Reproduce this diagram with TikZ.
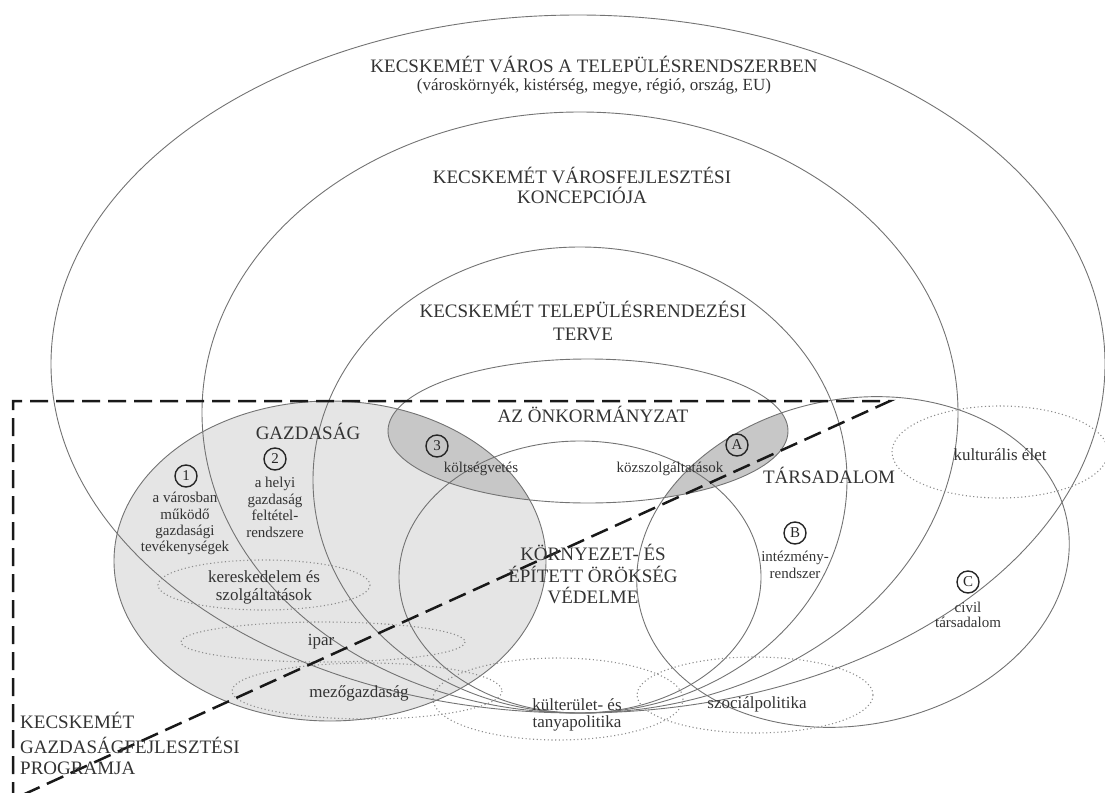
\documentclass[tikz,border=0pt]{standalone}
\usepackage{fontspec}
\setmainfont{Liberation Serif}
\begin{document}
\begin{tikzpicture}[x=1pt,y=-1pt,
  bigline/.style={draw=black!55,line width=0.9pt},
  dotell/.style={draw=black!45,line width=1.1pt,dash pattern=on 1.1pt off 2.6pt},
  dashframe/.style={draw=black!90,line width=2.5pt,dash pattern=on 18pt off 8pt},
  gazfill/.style={fill=black!10},
  lensfill/.style={fill=black!22},
  hd/.style={font=\fontsize{19}{22}\selectfont,text=black!80,inner sep=0pt,anchor=base},
  lb/.style={font=\fontsize{17}{18}\selectfont,text=black!80,inner sep=0pt,anchor=base},
  sm/.style={font=\fontsize{15}{16}\selectfont,text=black!80,inner sep=0pt,anchor=base},
  numc/.style={circle,draw=black!85,line width=1.4pt,minimum size=22pt,inner sep=0pt,font=\fontsize{15}{15}\selectfont,text=black!85}
]
\useasboundingbox (0,0) rectangle (1105,792);
\clip (0,0) rectangle (1105,792);
% ---- fills
\fill[gazfill] (330,561) ellipse [x radius=216, y radius=160];
\begin{scope}
  \clip (330,561) ellipse [x radius=216, y radius=160];
  \fill[lensfill] (588,431) ellipse [x radius=200, y radius=72];
\end{scope}
\begin{scope}
  \clip[rotate around={11:(853,562)}] (853,562) ellipse [x radius=218, y radius=163];
  \fill[lensfill] (588,431) ellipse [x radius=200, y radius=72];
\end{scope}
% ---- outlines
\draw[bigline] (578,364) ellipse [x radius=527, y radius=349];
\draw[bigline] (580,412.5) ellipse [x radius=378, y radius=300.5];
\draw[bigline] (580,480) ellipse [x radius=267, y radius=233];
\draw[bigline] (580,577) ellipse [x radius=181, y radius=136];
\draw[bigline] (588,431) ellipse [x radius=200, y radius=72];
\draw[bigline] (330,561) ellipse [x radius=216, y radius=160];
\draw[bigline, rotate around={11:(853,562)}] (853,562) ellipse [x radius=218, y radius=163];
% ---- dotted ellipses
\draw[dotell] (264,585) ellipse [x radius=106, y radius=25];
\draw[dotell] (323,642) ellipse [x radius=142, y radius=20];
\draw[dotell] (367,691) ellipse [x radius=135, y radius=28];
\draw[dotell] (558,699) ellipse [x radius=125, y radius=41];
\draw[dotell] (755,695) ellipse [x radius=118, y radius=38];
\draw[dotell] (1000,452) ellipse [x radius=108, y radius=46];
% ---- dashed frame
\coordinate (fbl) at (13,800);
\coordinate (ftl) at (13,401);
\coordinate (ftr) at (890,401);
\coordinate (fbd) at (18,797);
\draw[dashframe] (fbl) -- (ftl) -- (ftr) -- (fbd);
% ---- headings
\node[hd] (t1a) at (594,72) {KECSKEMÉT VÁROS A TELEPÜLÉSRENDSZERBEN};
\node[font=\fontsize{17}{18}\selectfont,text=black!80,inner sep=0pt,anchor=base] (t1b) at (594,90) {(városkörnyék, kistérség, megye, régió, ország, EU)};
\node[hd] (t2a) at (582,183) {KECSKEMÉT VÁROSFEJLESZTÉSI};
\node[hd] (t2b) at (582,203) {KONCEPCIÓJA};
\node[hd] (t3a) at (583,317) {KECSKEMÉT TELEPÜLÉSRENDEZÉSI};
\node[hd] (t3b) at (583,340) {TERVE};
\node[hd] (onk) at (593,422) {AZ ÖNKORMÁNYZAT};
\node[hd] (gaz) at (308,439) {GAZDASÁG};
\node[hd] (tars) at (829,483) {TÁRSADALOM};
\node[hd] (korA) at (593,560) {KÖRNYEZET- ÉS};
\node[hd] (korB) at (593,582) {ÉPÍTETT ÖRÖKSÉG};
\node[hd] (korC) at (593,603) {VÉDELME};
\node[hd,anchor=base west] (progA) at (20,728) {KECSKEMÉT};
\node[hd,anchor=base west] (progB) at (20,753) {GAZDASÁGFEJLESZTÉSI};
\node[hd,anchor=base west] (progC) at (20,774) {PROGRAMJA};
% ---- numbered items
\node[numc] (n1) at (186,476) {1};
\node[sm] (i1a) at (185,502) {a városban};
\node[sm] (i1b) at (185,519) {működő};
\node[sm] (i1c) at (185,535) {gazdasági};
\node[sm] (i1d) at (185,551) {tevékenységek};
\node[numc] (n2) at (275,459) {2};
\node[sm] (i2a) at (275,487) {a helyi};
\node[sm] (i2b) at (275,504) {gazdaság};
\node[sm] (i2c) at (275,520) {feltétel-};
\node[sm] (i2d) at (275,537) {rendszere};
\node[numc] (n3) at (437,446) {3};
\node[sm] (i3) at (481,472) {költségvetés};
\node[numc] (nA) at (737,445) {A};
\node[sm] (iA) at (670,472) {közszolgáltatások};
\node[numc] (nB) at (795,533) {B};
\node[sm] (iBa) at (795,561) {intézmény-};
\node[sm] (iBb) at (795,578) {rendszer};
\node[numc] (nC) at (968,582) {C};
\node[sm] (iCa) at (968,612) {civil};
\node[sm] (iCb) at (968,627) {társadalom};
% ---- dotted ellipse labels
\node[lb] (ker1) at (264,582) {kereskedelem és};
\node[lb] (ker2) at (264,600) {szolgáltatások};
\node[lb] (ipar) at (321,645) {ipar};
\node[lb] (mezo) at (359,697) {mezőgazdaság};
\node[lb] (kul1) at (577,710) {külterület- és};
\node[lb] (kul2) at (577,727) {tanyapolitika};
\node[lb] (szoc) at (757,708) {szociálpolitika};
\node[lb] (kult) at (1000,460) {kulturális élet};
\end{tikzpicture}
\end{document}
